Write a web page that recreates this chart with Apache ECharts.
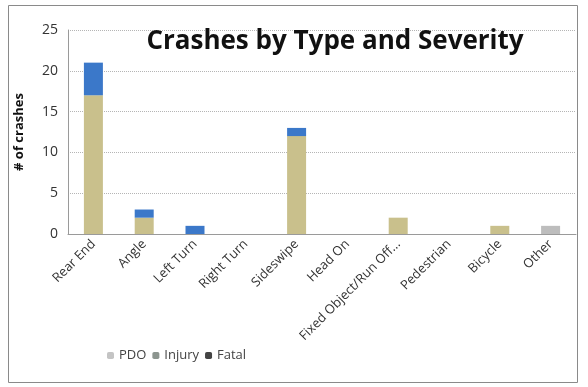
<!DOCTYPE html>
<html>
<head>
<meta charset="utf-8">
<script src="https://cdn.jsdelivr.net/npm/echarts@6/dist/echarts.min.js"></script>
<style>
  html, body { margin: 0; padding: 0; background: #fff; }
  #chart { width: 588px; height: 387px; }
</style>
</head>
<body>
<div id="chart"></div>
<script>
// data
const categories = ['Rear End', 'Angle', 'Left Turn', 'Right Turn', 'Sideswipe', 'Head On', 'Fixed Object/Run Off...', 'Pedestrian', 'Bicycle', 'Other']
const pdo = [17, 2, 0, 0, 12, 0, 2, 0, 1, 1]
const injury = [4, 1, 1, 0, 1, 0, 0, 0, 0, 0]
const fatal = [0, 0, 0, 0, 0, 0, 0, 0, 0, 0]
const yTicks = [0, 5, 10, 15, 20, 25]

let chart = echarts.init(document.querySelector('#chart'))

// "Other" bar is drawn grey in the original
let pdoData = pdo.map((v, i) => categories[i] === 'Other'
    ? { value: v, itemStyle: { color: '#bdbdbd' } }
    : v)

let option = {
    backgroundColor: '#fff',
    animation: false,
    textStyle: { fontFamily: 'Open Sans, DejaVu Sans, sans-serif' },
    title: {
        text: 'Crashes by Type and Severity',
        left: 330,
        top: 24,
        textAlign: 'center',
        textStyle: { fontSize: 26, fontWeight: 'bold', color: '#111' }
    },
    graphic: [{
        type: 'rect',
        shape: { x: 8.5, y: 5.5, width: 569, height: 377 },
        style: { fill: 'none', stroke: '#8a8a8a', lineWidth: 1 },
        silent: true
    }],
    legend: {
        left: 102,
        top: 344,
        itemWidth: 7,
        itemHeight: 7,
        itemGap: 6,
        textStyle: { fontSize: 13, color: '#444' },
        data: [
            { name: 'PDO', itemStyle: { color: '#c4c4c4' } },
            { name: 'Injury', itemStyle: { color: '#8c958f' } },
            { name: 'Fatal', itemStyle: { color: '#444444' } }
        ]
    },
    grid: {
        left: 68,
        right: 12,
        top: 30,
        bottom: 153
    },
    xAxis: {
        type: 'category',
        data: categories,
        axisTick: { show: false },
        axisLine: { lineStyle: { color: '#9a9a9a' } },
        axisLabel: {
            rotate: 45,
            interval: 0,
            fontSize: 13,
            color: '#333',
            margin: 8
        }
    },
    yAxis: {
        type: 'value',
        min: yTicks[0],
        max: yTicks[yTicks.length - 1],
        interval: 5,
        name: '# of crashes',
        nameLocation: 'middle',
        nameGap: 42,
        nameRotate: 90,
        nameTextStyle: { fontSize: 13, fontWeight: 'bold', color: '#111' },
        axisLine: { show: true, lineStyle: { color: '#9a9a9a' } },
        axisTick: { show: false },
        axisLabel: { fontSize: 14, color: '#333', margin: 10 },
        splitLine: { lineStyle: { color: '#b5b5b5', type: 'dotted' } }
    },
    series: [
        {
            name: 'PDO',
            type: 'bar',
            stack: 'total',
            barWidth: 19,
            data: pdoData,
            itemStyle: { color: '#c9c08c' }
        },
        {
            name: 'Injury',
            type: 'bar',
            stack: 'total',
            barWidth: 19,
            data: injury,
            itemStyle: { color: '#3b78c9' }
        },
        {
            name: 'Fatal',
            type: 'bar',
            stack: 'total',
            barWidth: 19,
            data: fatal,
            itemStyle: { color: '#444444' }
        }
    ]
}

chart.setOption(option)
</script>
</body>
</html>
